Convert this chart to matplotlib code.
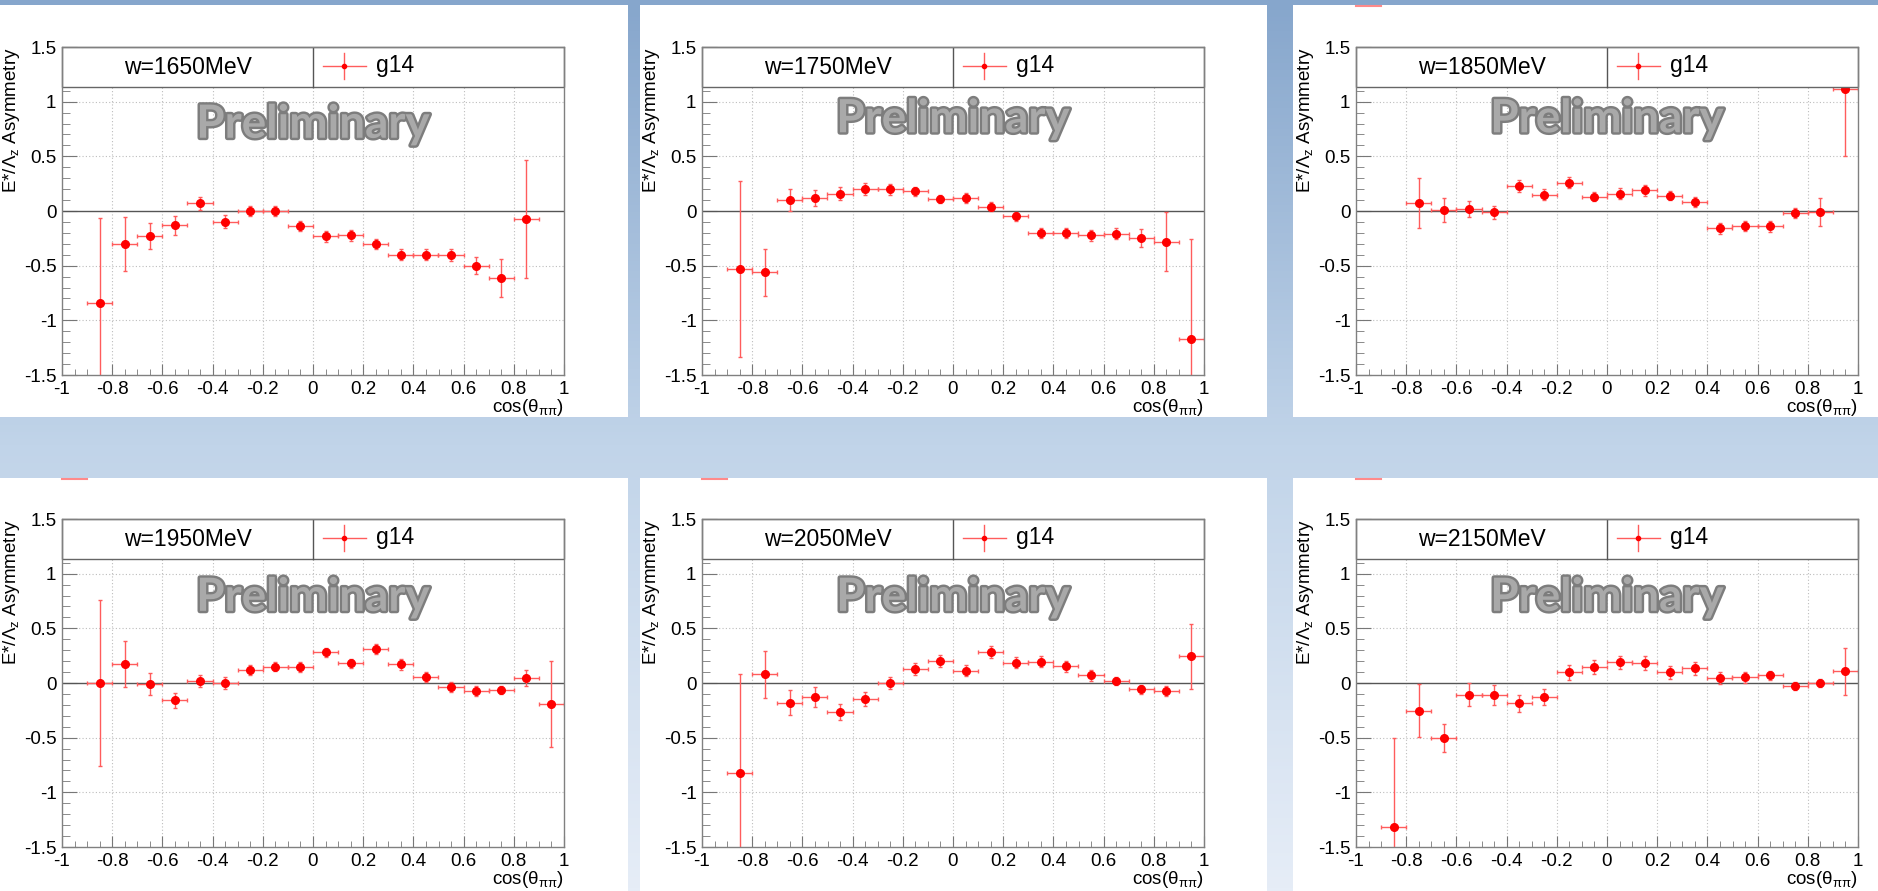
import numpy as np
import matplotlib
matplotlib.use("Agg")
import matplotlib.pyplot as plt
import matplotlib.patheffects as pe
from matplotlib.patches import Rectangle
from matplotlib.colors import LinearSegmentedColormap

plt.rcParams['font.family'] = ['Liberation Sans', 'DejaVu Sans']
plt.rcParams['mathtext.fontset'] = 'custom'
plt.rcParams['mathtext.rm'] = 'Liberation Sans'
plt.rcParams['mathtext.it'] = 'Liberation Sans:italic'
plt.rcParams['axes.unicode_minus'] = False

# bin centres in cos(theta_pipi)
cos_bins = [-0.95, -0.85, -0.75, -0.65, -0.55, -0.45, -0.35, -0.25, -0.15, -0.05,
            0.05, 0.15, 0.25, 0.35, 0.45, 0.55, 0.65, 0.75, 0.85, 0.95]
bin_half = 0.05

w_values = [1650, 1750, 1850, 1950, 2050, 2150]

asym_1650 = [None, -0.84, -0.30, -0.23, -0.13, 0.07, -0.10, 0.00, 0.00, -0.14,
             -0.23, -0.22, -0.30, -0.40, -0.40, -0.40, -0.50, -0.61, -0.07, None]
err_1650 = [None, 0.78, 0.245, 0.12, 0.085, 0.06, 0.06, 0.045, 0.05, 0.045,
            0.05, 0.05, 0.043, 0.05, 0.05, 0.055, 0.08, 0.175, 0.54, None]

asym_1750 = [None, -0.53, -0.56, 0.10, 0.12, 0.16, 0.20, 0.20, 0.18, 0.11,
             0.12, 0.04, -0.05, -0.20, -0.20, -0.22, -0.21, -0.25, -0.28, -1.17]
err_1750 = [None, 0.805, 0.213, 0.10, 0.07, 0.061, 0.055, 0.05, 0.043, 0.04,
            0.049, 0.042, 0.045, 0.046, 0.046, 0.05, 0.05, 0.082, 0.267, 0.915]

asym_1850 = [None, None, 0.07, 0.01, 0.02, -0.01, 0.23, 0.15, 0.26, 0.13,
             0.16, 0.19, 0.14, 0.08, -0.16, -0.14, -0.14, -0.02, -0.01, 1.12]
err_1850 = [None, None, 0.228, 0.107, 0.076, 0.06, 0.058, 0.052, 0.052, 0.043,
            0.046, 0.049, 0.04, 0.046, 0.046, 0.046, 0.049, 0.046, 0.128, 0.615]

asym_1950 = [None, 0.00, 0.17, -0.01, -0.16, 0.02, 0.00, 0.12, 0.15, 0.15,
             0.28, 0.18, 0.31, 0.17, 0.055, -0.037, -0.073, -0.064, 0.046, -0.19]
err_1950 = [None, 0.757, 0.21, 0.097, 0.073, 0.055, 0.052, 0.049, 0.043, 0.046,
            0.043, 0.043, 0.046, 0.049, 0.043, 0.043, 0.043, 0.037, 0.073, 0.392]

asym_2050 = [None, -0.82, 0.08, -0.18, -0.13, -0.265, -0.146, 0.0, 0.125, 0.20,
             0.113, 0.283, 0.186, 0.195, 0.152, 0.07, 0.021, -0.058, -0.073, 0.243]
err_2050 = [None, 0.90, 0.213, 0.116, 0.091, 0.073, 0.064, 0.058, 0.055, 0.052,
            0.049, 0.055, 0.052, 0.052, 0.049, 0.049, 0.037, 0.04, 0.049, 0.298]

asym_2150 = [None, -1.314, -0.253, -0.502, -0.106, -0.106, -0.186, -0.125, 0.097, 0.146,
             0.189, 0.183, 0.097, 0.134, 0.046, 0.052, 0.07, -0.03, 0.0, 0.107]
err_2150 = [None, 0.812, 0.24, 0.131, 0.106, 0.091, 0.076, 0.073, 0.07, 0.067,
            0.061, 0.067, 0.058, 0.058, 0.055, 0.049, 0.043, 0.037, 0.04, 0.213]

all_asym = [asym_1650, asym_1750, asym_1850, asym_1950, asym_2050, asym_2150]
all_err = [err_1650, err_1750, err_1850, err_1950, err_2050, err_2150]

x_ticks = [-1, -0.8, -0.6, -0.4, -0.2, 0, 0.2, 0.4, 0.6, 0.8, 1]
x_labels = ['-1', '-0.8', '-0.6', '-0.4', '-0.2', '0', '0.2', '0.4', '0.6', '0.8', '1']
y_ticks = [-1.5, -1, -0.5, 0, 0.5, 1, 1.5]
y_labels = ['-1.5', '-1', '-0.5', '0', '0.5', '1', '1.5']

W, H = 1878, 891


def fx(x):
    return x / W


def fy(y):
    return 1 - y / H


fig = plt.figure(figsize=(W / 100, H / 100), dpi=100)

# slide background
bg = fig.add_axes([0, 0, 1, 1], zorder=-10)
cmap = LinearSegmentedColormap.from_list('bg', ['#86a6cc', '#c1d4e9', '#e6edf7'])
bg.imshow(np.linspace(0, 1, 256)[:, None], aspect='auto', cmap=cmap,
          extent=[0, 1, 0, 1], origin='upper')
bg.set_xlim(0, 1)
bg.set_ylim(0, 1)
bg.axis('off')

col_white = [(0, 628), (640, 1267), (1293, 1878)]
row_white = [(5, 417), (478, 891)]
for (y0, y1) in row_white:
    for (x0, x1) in col_white:
        bg.add_patch(Rectangle((fx(x0), fy(y1)), (x1 - x0) / W, (y1 - y0) / H,
                               facecolor='white', edgecolor='none'))

plot_x = [62, 702, 1356]
plot_y = [(47, 375), (519, 847)]
plot_w = 502
wm_y = [0.67, 0.72, 0.72, 0.66, 0.66, 0.66]

# little red leftovers at the top of some pads
for (px, py) in [(1356, 5), (62, 478), (702, 478), (1356, 478)]:
    for a, b in [(0, 12), (14, 25)]:
        bg.plot([fx(px + a), fx(px + b)], [fy(py + 1), fy(py + 1)],
                color='#ff8a8a', lw=1.5)

err_color = '#ff5c5c'
grid_kw = dict(color='#bdbdbd', lw=0.8, linestyle=(0, (1, 2)), zorder=1)
leg_bottom = 1.13

for i, w in enumerate(w_values):
    r, c = divmod(i, 3)
    top, bottom = plot_y[r]
    ax = fig.add_axes([fx(plot_x[c]), fy(bottom), plot_w / W, (bottom - top) / H])
    ax.set_xlim(-1, 1)
    ax.set_ylim(-1.5, 1.5)

    gfrac = (leg_bottom + 1.5) / 3.0
    for gx in x_ticks[1:-1]:
        ax.axvline(gx, ymax=gfrac, **grid_kw)
    for gy in [-1, -0.5, 0.5, 1]:
        ax.axhline(gy, **grid_kw)
    ax.axhline(0, color='#555555', lw=1, zorder=2)

    vals = np.array([np.nan if v is None else v for v in all_asym[i]], dtype=float)
    errs = np.array([np.nan if v is None else v for v in all_err[i]], dtype=float)
    ax.errorbar(cos_bins, vals, yerr=errs, xerr=bin_half, fmt='o', ms=5.5,
                color='red', mec='red', ecolor=err_color, elinewidth=1,
                capsize=1.5, capthick=1, zorder=4)

    ax.text(0.0, wm_y[i], 'Preliminary', family=['Lato', 'DejaVu Sans'],
            fontweight='bold', fontsize=33, color='#a9a9a9', ha='center',
            va='baseline', zorder=3,
            path_effects=[pe.withStroke(linewidth=3.5, foreground='#7d7d7d')])

    # legend box
    ax.add_patch(Rectangle((-1, leg_bottom), 2, 1.5 - leg_bottom, facecolor='white',
                           edgecolor='#666666', lw=1, zorder=5, clip_on=False))
    ax.plot([0, 0], [leg_bottom, 1.5], color='#555555', lw=1, zorder=6)
    ax.text(-0.5, 1.315, f'w={w}MeV', ha='center', va='center', fontsize=16.5, zorder=7)
    ax.plot([0.04, 0.21], [1.325, 1.325], color=err_color, lw=1, zorder=7)
    ax.plot([0.125, 0.125], [1.21, 1.445], color=err_color, lw=1, zorder=7)
    ax.plot([0.125], [1.325], 'o', ms=3, color='red', zorder=8)
    ax.text(0.25, 1.33, 'g14', ha='left', va='center', fontsize=16.5, zorder=7)

    ax.set_xticks(x_ticks)
    ax.set_xticklabels(x_labels)
    ax.set_yticks(y_ticks)
    ax.set_yticklabels(y_labels)
    ax.set_xticks(np.arange(-1, 1.001, 0.05), minor=True)
    ax.set_yticks(np.arange(-1.5, 1.501, 0.1), minor=True)
    ax.tick_params(axis='both', which='both', direction='in', top=False, right=False,
                   color='#777777', labelsize=13.5)
    ax.tick_params(axis='x', which='major', length=8, pad=4)
    ax.tick_params(axis='x', which='minor', length=4)
    ax.tick_params(axis='y', which='major', length=11, pad=4)
    ax.tick_params(axis='y', which='minor', length=6)
    for s in ax.spines.values():
        s.set_color('#808080')
        s.set_linewidth(1)
        s.set_zorder(6)

    fig.text(fx(plot_x[c] - 50), fy(top), r'E*/$\Lambda_{\mathrm{z}}$ Asymmetry',
             rotation=90, ha='center', va='top', fontsize=13.5)
    fig.text(fx(plot_x[c] + plot_w), fy(bottom + 32), r'cos($\mathrm{\theta_{\pi\pi}}$)',
             ha='right', va='center', fontsize=13.5)

fig.savefig('out.png', dpi=100)
